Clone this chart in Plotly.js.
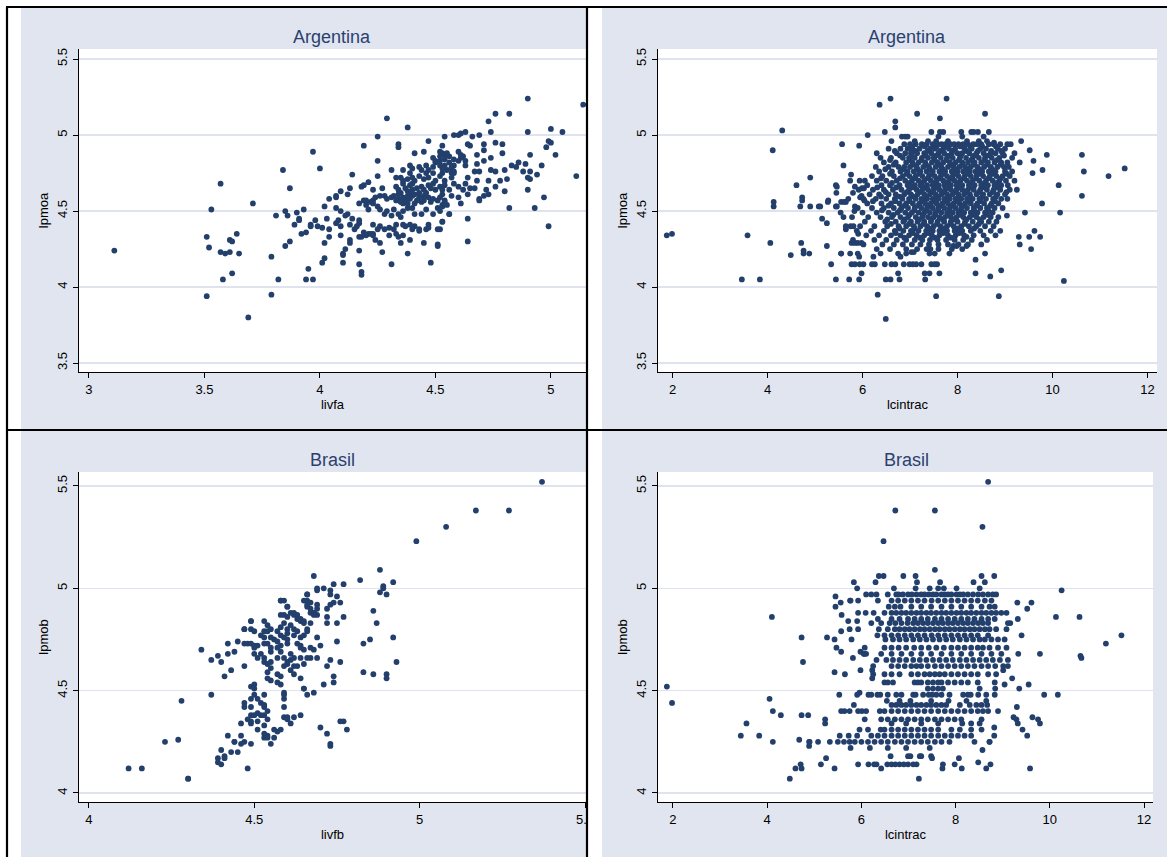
<!DOCTYPE html>
<html><head><meta charset="utf-8">
<script src="https://cdn.plot.ly/plotly-3.0.1.min.js"></script>
<style>html,body{margin:0;padding:0;background:#fff}#chart{width:1167px;height:857px}</style>
</head><body><div id="chart"></div>
<script>
// ---------- DATA ----------
const panelTitles = ["Argentina", "Argentina", "Brasil", "Brasil"];
const xTitles = ["livfa", "lcintrac", "livfb", "lcintrac"];
const yTitles = ["lpmoa", "lpmoa", "lpmob", "lpmob"];

// Argentina: livfa (x) vs lpmoa (y)
const argLivfaLpmoa = [
[3.11,4.24],[3.51,3.94],[3.51,4.33],[3.52,4.26],[3.53,4.51],[3.57,4.68],[3.57,4.23],[3.59,4.22],[3.61,4.23],[3.58,4.05],
[3.62,4.09],[3.61,4.31],[3.62,4.30],[3.64,4.35],[3.65,4.22],[3.69,3.80],[3.71,4.55],[3.79,3.95],[3.79,4.20],[3.82,4.05],
[3.81,4.47],[3.84,4.77],[3.85,4.50],[3.86,4.47],[3.85,4.27],[3.87,4.30],[3.87,4.65],[3.89,4.41],[3.90,4.49],[3.91,4.45],
[3.91,4.44],[3.93,4.51],[3.92,4.35],[3.94,4.36],[3.96,4.41],[3.96,4.40],[3.98,4.44],[3.94,4.05],[3.97,4.05],[3.95,4.12],
[3.97,4.89],[4.00,4.78],[3.99,4.40],[4.01,4.39],[4.04,4.38],[4.03,4.45],[4.04,4.33],[4.02,4.29],[4.02,4.53],[4.01,4.16],
[4.02,4.19],[4.04,4.58],[4.07,4.60],[4.07,4.59],[4.09,4.63],[4.12,4.61],[4.13,4.65],[4.14,4.74],[4.07,4.52],[4.09,4.50],
[4.08,4.44],[4.07,4.42],[4.09,4.40],[4.09,4.34],[4.11,4.47],[4.12,4.48],[4.14,4.45],[4.13,4.41],[4.10,4.16],[4.10,4.21],
[4.10,4.22],[4.11,4.25],[4.13,4.29],[4.13,4.31],[4.17,4.15],[4.17,4.24],[4.18,4.10],[4.18,4.08],[4.19,4.93],[4.15,4.38],
[4.16,4.40],[4.17,4.42],[4.17,4.44],[4.17,4.33],[4.18,4.33],[4.19,4.36],[4.20,4.34],[4.21,4.35],[4.22,4.35],[4.17,4.55],
[4.19,4.57],[4.20,4.57],[4.22,4.56],[4.23,4.57],[4.23,4.64],[4.21,4.69],[4.19,4.67],[4.18,4.66],
[4.25,4.73],[4.25,4.83],[4.25,4.99],[4.27,4.65],[4.27,4.23],[4.29,5.11],[4.31,4.15],[4.31,4.77],[4.33,4.72],[4.34,4.94],
[4.34,4.92],[4.38,5.05],[4.38,4.22],[4.35,4.29],[4.41,4.88],[4.45,4.89],[4.47,4.96],[4.45,4.29],[4.48,4.16],[4.51,4.27],
[4.52,4.38],[4.53,4.43],[4.56,4.48],[4.47,4.41],[4.46,4.38],[4.43,4.38],[4.41,4.40],[4.39,4.41],[4.37,4.40],[4.36,4.41],
[4.33,4.41],[4.32,4.38],[4.30,4.39],[4.28,4.38],[4.26,4.40],[4.25,4.38],[4.23,4.35],[4.24,4.31],[4.26,4.29],[4.23,4.41],
[4.23,4.34],[4.33,4.35],[4.34,4.33],[4.30,4.34],[4.36,4.34],[4.39,4.31],[4.40,4.38],[4.43,4.37],[4.47,4.39],
[4.20,4.54],[4.21,4.51],[4.23,4.55],[4.25,4.53],[4.26,4.51],[4.28,4.48],[4.29,4.50],[4.31,4.47],[4.32,4.51],[4.34,4.48],
[4.35,4.46],[4.36,4.50],[4.38,4.52],[4.36,4.55],[4.38,4.55],[4.40,4.52],[4.41,4.48],[4.44,4.48],[4.46,4.51],[4.49,4.48],
[4.51,4.52],[4.53,4.54],
[4.24,4.59],[4.26,4.60],[4.28,4.60],[4.29,4.58],[4.31,4.59],[4.32,4.60],[4.34,4.61],[4.34,4.58],[4.35,4.56],[4.36,4.59],
[4.38,4.60],[4.39,4.58],[4.40,4.60],[4.41,4.61],[4.43,4.59],[4.44,4.56],[4.45,4.57],[4.47,4.59],[4.48,4.56],[4.49,4.58],
[4.51,4.57],[4.52,4.59],[4.54,4.57],[4.37,4.57],[4.39,4.62],[4.42,4.57],[4.43,4.62],[4.35,4.62],[4.41,4.55],[4.46,4.62],
[4.38,4.63],[4.33,4.57],[4.45,4.60],
[4.33,4.66],[4.34,4.64],[4.36,4.68],[4.37,4.65],[4.39,4.67],[4.40,4.64],[4.40,4.68],[4.42,4.65],[4.44,4.66],[4.45,4.64],
[4.47,4.67],[4.48,4.65],[4.49,4.68],[4.50,4.64],[4.52,4.66],[4.53,4.64],[4.54,4.67],
[4.35,4.72],[4.36,4.70],[4.38,4.71],[4.39,4.75],[4.40,4.72],[4.41,4.70],[4.43,4.73],[4.45,4.71],[4.46,4.75],[4.47,4.72],
[4.49,4.75],[4.50,4.70],[4.52,4.73],[4.53,4.75],[4.55,4.77],[4.57,4.75],
[4.36,4.77],[4.39,4.80],[4.40,4.78],[4.43,4.79],[4.44,4.77],[4.46,4.80],[4.47,4.77],[4.49,4.79],[4.50,4.82],[4.52,4.80],
[4.53,4.78],[4.54,4.80],[4.57,4.78],[4.58,4.80],[4.58,4.76],
[4.49,4.85],[4.50,4.83],[4.52,4.86],[4.53,4.88],[4.54,4.84],[4.56,4.86],[4.58,4.84],[4.60,4.89],[4.62,4.86],[4.63,4.83],
[4.53,4.93],[4.52,4.89],[4.54,4.87],[4.55,4.88],[4.52,4.83],[4.56,4.82],[4.57,4.79],[4.58,4.75],[4.57,4.72],[4.54,4.70],
[4.58,4.68],[4.60,4.66],[4.56,4.64],[4.53,4.61],[4.57,4.60],[4.54,4.56],[4.53,4.53],[4.55,4.54],[4.52,4.50],[4.56,4.48],
[4.53,4.43],[4.51,4.38],[4.51,4.28],[4.54,4.99],
[4.90,5.24],[5.14,5.20],[4.76,5.14],[4.82,5.14],[4.73,5.09],[4.74,5.02],[4.90,5.02],[5.00,5.04],[5.05,5.02],[4.99,4.96],
[5.00,4.95],[4.98,4.92],[5.02,4.87],[4.91,4.87],[4.96,4.80],[5.11,4.73],[4.94,4.74],[4.90,4.64],[4.97,4.59],[4.93,4.52],
[4.99,4.40],[4.82,4.52],[4.90,4.72],[4.91,4.71],[4.88,4.76],[4.91,4.76],[4.89,4.81],[4.86,4.82],[4.83,4.80],[4.85,4.79],
[4.79,4.94],[4.76,4.95],[4.79,4.88],[4.80,4.77],[4.81,4.71],[4.78,4.70],[4.80,4.63],[4.76,4.66],
[4.71,4.94],[4.71,4.90],[4.71,4.83],[4.74,4.85],[4.74,4.77],[4.76,4.76],[4.73,4.70],[4.72,4.64],[4.73,4.61],[4.71,4.60],
[4.69,4.58],[4.69,4.57],[4.66,4.99],[4.65,4.93],[4.64,4.94],[4.69,5.00],[4.63,5.02],[4.61,5.01],[4.60,5.00],[4.58,5.00],
[4.68,4.87],[4.68,4.81],[4.67,4.76],[4.69,4.76],[4.68,4.70],[4.67,4.65],[4.65,4.65],[4.64,4.61],
[4.61,4.87],[4.61,4.85],[4.60,4.83],[4.63,4.80],[4.64,4.72],[4.63,4.68],[4.62,4.64],[4.60,4.59],[4.61,4.55],[4.64,4.45],
[4.64,4.30]
];

// Argentina: lcintrac (x) vs lpmoa (y) - scattered observations
const argCintracLpmoa = [
[1.88,4.34],[1.99,4.35],[3.58,4.34],[3.46,4.05],[3.84,4.05],[4.06,4.29],[4.11,4.90],[4.31,5.03],[4.13,4.56],[4.13,4.53],
[4.49,4.21],[4.61,4.67],[4.71,4.29],[4.76,4.24],[4.76,4.22],[4.88,4.22],[4.73,4.59],[4.73,4.57],[4.90,4.72],[5.15,4.45],
[5.25,4.42],[5.25,4.27],[5.34,4.15],[5.44,4.05],[5.27,4.56],[5.28,4.57],[5.57,4.94],[5.60,4.80],[5.55,4.22],[5.72,4.05],
[5.93,4.05],[6.32,3.95],[6.36,5.20],[6.59,5.24],[6.49,3.79],[6.69,5.09],[6.69,5.05],[7.15,5.14],[7.63,5.11],[7.77,5.24],
[8.58,5.14],[8.66,5.02],[7.55,3.94],[8.87,3.94],[8.92,4.11],[8.69,4.07],[8.38,4.18],[8.38,4.09],[8.58,4.22],[10.24,4.04],
[9.29,4.33],[9.31,4.28],[9.51,4.33],[9.55,4.25],[9.74,4.33],[9.62,4.37],[9.42,4.49],[9.04,4.47],[9.78,4.55],[10.16,4.49],
[10.13,4.67],[10.62,4.60],[10.66,4.76],[10.62,4.87],[11.18,4.73],[11.52,4.78],[9.88,4.87],[9.79,4.77],[9.58,4.75],[9.60,4.83],
[9.52,4.90],[9.34,4.96],[9.31,4.82],[8.77,4.95],[5.93,4.93],[6.11,5.00],
[4.69,4.53],[4.90,4.53],[5.08,4.53],[5.11,4.53],[5.44,4.53],[5.46,4.53],[5.55,4.56],[5.61,4.56],[5.65,4.56],[5.46,4.66],
[5.45,4.62],[5.44,4.67],[5.74,4.70],[5.76,4.74],[5.80,4.62],[5.84,4.66],[5.94,4.70],[5.99,4.65],[6.03,4.65],[5.98,4.60],
[5.54,4.49],[5.60,4.46],[5.65,4.38],[5.75,4.40],[5.81,4.40],[5.84,4.53],[5.83,4.50],[5.95,4.59],[6.04,4.57],[5.91,4.35],
[5.95,4.40],[5.77,4.29],[5.84,4.29],[5.90,4.29],[5.98,4.29],[5.74,4.22],[5.90,4.22],[5.93,4.20],[5.55,4.22],
[5.77,4.15],[5.84,4.15],[5.94,4.15],[6.02,4.15],[6.20,4.15],[6.26,4.15],[6.47,4.15],[6.61,4.15],[6.69,4.15],[6.87,4.15],
[6.99,4.15],[7.06,4.15],[7.13,4.15],[7.24,4.15],[7.45,4.15],[7.52,4.15],[7.57,4.15],
[5.98,4.09],[6.75,4.09],[7.31,4.09],[7.41,4.09],[7.62,4.09],[6.49,4.05],[6.59,4.05],[6.78,4.05],[7.32,4.05],
[6.23,4.20],[6.38,4.22],[6.75,4.22],[6.80,4.20],[6.92,4.22],[7.03,4.23],[7.08,4.23],[7.41,4.22],[7.52,4.22],[7.43,4.25],
[7.83,4.22],[7.91,4.27],[7.98,4.27],[8.19,4.33],[8.19,4.27]
];
// Argentina: lcintrac vs lpmoa - dense core, read row by row: [lpmoa, [lcintrac...]]
const argCintracCoreRows = [
[5.02,[6.47,7.45,7.63,7.70,8.08,8.29,8.34,8.43]],
[4.99,[6.83,6.90,6.95,7.60,8.10,8.55]],
[4.96,[6.61,7.10,7.38,7.55,7.80,8.20,8.45,8.62]],
[4.94,[6.88,7.00,7.12,7.25,7.35,7.48,7.58,7.66,7.74,7.85,7.93,8.02,8.12,8.22,8.33,8.40,8.50,8.66,8.76,8.90,9.05,9.12]],
[4.925,[7.05,7.31,7.56,7.79,8.06,8.27,8.52,8.81]],
[4.91,[6.55,6.80,6.95,7.05,7.20,7.42,7.52,7.70,7.82,7.95,8.15,8.30,8.48,8.60,8.85,9.00]],
[4.895,[6.68,7.11,7.37,7.63,7.89,8.19,8.43,8.71,8.92]],
[4.88,[6.30,6.72,6.90,7.02,7.15,7.30,7.45,7.60,7.72,7.88,8.00,8.10,8.25,8.40,8.55,8.70,8.80,8.95,9.20]],
[4.865,[6.79,7.04,7.33,7.55,7.81,8.07,8.35,8.63,8.98]],
[4.85,[6.38,6.60,6.85,6.98,7.10,7.25,7.38,7.50,7.65,7.78,7.90,8.05,8.18,8.32,8.45,8.58,8.72,8.88,9.15]],
[4.835,[6.58,6.99,7.24,7.52,7.77,8.03,8.29,8.57,8.83]],
[4.82,[6.45,6.70,6.92,7.05,7.18,7.32,7.46,7.58,7.70,7.84,7.96,8.10,8.22,8.36,8.50,8.64,8.78,8.92,9.05]],
[4.805,[6.66,7.07,7.34,7.61,7.86,8.10,8.34,8.62,8.91]],
[4.79,[6.28,6.55,6.76,6.88,7.00,7.14,7.28,7.40,7.54,7.66,7.80,7.92,8.04,8.16,8.28,8.42,8.56,8.70,8.84,8.98,9.08]],
[4.775,[6.48,6.86,7.16,7.42,7.69,7.95,8.21,8.46,8.73]],
[4.76,[6.35,6.62,6.80,6.95,7.08,7.22,7.35,7.48,7.62,7.74,7.88,8.00,8.12,8.26,8.38,8.52,8.66,8.80,9.00,9.15]],
[4.745,[6.58,6.93,7.19,7.46,7.71,7.97,8.22,8.47,8.75,9.04]],
[4.73,[6.20,6.42,6.66,6.85,6.99,7.12,7.26,7.40,7.52,7.65,7.78,7.90,8.02,8.15,8.28,8.40,8.54,8.68,8.82,8.95,9.10]],
[4.715,[6.39,6.79,7.09,7.37,7.62,7.87,8.13,8.39,8.65,8.91]],
[4.70,[6.05,6.30,6.50,6.72,6.90,7.04,7.18,7.30,7.44,7.56,7.70,7.82,7.94,8.06,8.20,8.32,8.46,8.60,8.74,8.88,9.02,9.20]],
[4.685,[6.62,6.99,7.25,7.53,7.78,8.03,8.29,8.57,8.83]],
[4.67,[6.10,6.40,6.58,6.78,6.95,7.10,7.22,7.36,7.48,7.60,7.72,7.86,7.98,8.10,8.24,8.36,8.50,8.64,8.78,8.92,9.06]],
[4.655,[6.31,6.71,7.05,7.31,7.57,7.82,8.05,8.31,8.57,8.85]],
[4.64,[5.92,6.22,6.45,6.64,6.82,6.98,7.14,7.26,7.38,7.50,7.62,7.74,7.86,7.98,8.10,8.22,8.34,8.48,8.62,8.76,8.90,9.10,9.25]],
[4.625,[6.49,6.93,7.21,7.47,7.71,7.94,8.19,8.45,8.74,9.03]],
[4.61,[6.15,6.35,6.55,6.70,6.88,7.02,7.16,7.30,7.42,7.54,7.66,7.78,7.90,8.02,8.14,8.26,8.40,8.54,8.68,8.84,9.00]],
[4.595,[6.39,6.78,7.07,7.33,7.57,7.81,8.03,8.27,8.52,8.81]],
[4.58,[5.70,6.02,6.28,6.50,6.68,6.84,6.98,7.12,7.24,7.36,7.48,7.60,7.72,7.84,7.96,8.08,8.20,8.32,8.46,8.60,8.75,8.92,9.05]],
[4.565,[6.22,6.69,6.99,7.27,7.51,7.75,7.99,8.23,8.49,8.79]],
[4.55,[6.10,6.40,6.60,6.78,6.92,7.06,7.20,7.32,7.44,7.56,7.68,7.80,7.92,8.04,8.16,8.28,8.42,8.56,8.72,8.86]],
[4.535,[6.55,6.89,7.17,7.42,7.66,7.89,8.13,8.39,8.69]],
[4.52,[5.90,6.20,6.45,6.66,6.82,6.96,7.10,7.24,7.36,7.48,7.60,7.72,7.84,7.96,8.08,8.20,8.34,8.48,8.62,8.78,8.95]],
[4.505,[6.41,6.79,7.09,7.35,7.59,7.83,8.07,8.35,8.65]],
[4.49,[6.00,6.30,6.55,6.74,6.90,7.04,7.18,7.30,7.42,7.54,7.66,7.78,7.90,8.02,8.14,8.28,8.42,8.58,8.74]],
[4.475,[6.65,6.99,7.27,7.53,7.79,8.05,8.33,8.63]],
[4.46,[5.78,6.12,6.38,6.62,6.80,6.96,7.12,7.26,7.38,7.50,7.62,7.74,7.86,7.98,8.12,8.26,8.40,8.55,8.70,8.86]],
[4.445,[6.52,6.89,7.19,7.45,7.69,7.93,8.19,8.47]],
[4.43,[6.05,6.48,6.70,6.86,7.02,7.16,7.30,7.44,7.58,7.72,7.86,8.00,8.16,8.32,8.50,8.66,8.82]],
[4.415,[6.60,6.98,7.29,7.57,7.85,8.15,8.45]],
[4.40,[5.65,6.25,6.52,6.76,6.92,7.08,7.22,7.36,7.50,7.64,7.78,7.92,8.08,8.24,8.40,8.58,8.76]],
[4.385,[6.78,7.10,7.41,7.71,8.01,8.35]],
[4.37,[5.88,6.18,6.45,6.68,6.86,7.02,7.18,7.34,7.48,7.62,7.78,7.94,8.10,8.28,8.48,8.70,8.90]],
[4.355,[6.70,7.06,7.38,7.70,8.04]],
[4.34,[6.08,6.35,6.60,6.80,6.98,7.14,7.30,7.46,7.62,7.80,7.96,8.14,8.34,8.55,8.80]],
[4.325,[6.88,7.21,7.52,7.86]],
[4.31,[5.80,6.25,6.50,6.72,6.92,7.10,7.26,7.42,7.58,7.76,7.94,8.12,8.30,8.62]],
[4.28,[6.02,6.42,6.66,6.85,7.04,7.22,7.40,7.60,7.80,8.02,8.22,8.50]],
[4.25,[6.30,6.58,6.92,7.15,7.35,7.60,7.88,8.10]]
];

// Brasil: livfb (x) vs lpmob (y)
const braLivfbLpmob = [
[4.12,4.12],[4.16,4.12],[4.23,4.25],[4.27,4.26],[4.28,4.45],[4.30,4.07],[4.30,4.07],[4.34,4.70],[4.37,4.48],[4.37,4.65],
[4.39,4.67],[4.40,4.64],[4.41,4.57],[4.42,4.68],[4.42,4.73],[4.44,4.69],[4.43,4.60],[4.42,4.28],
[4.39,4.17],[4.39,4.15],[4.40,4.14],[4.41,4.17],[4.41,4.18],[4.40,4.21],[4.43,4.20],[4.44,4.25],[4.44,4.25],[4.45,4.20],
[4.46,4.24],[4.46,4.28],[4.47,4.25],[4.48,4.12],[4.49,4.24],
[4.45,4.74],[4.47,4.73],[4.48,4.73],[4.49,4.73],[4.50,4.71],[4.47,4.80],[4.47,4.62],[4.49,4.80],[4.49,4.84],[4.49,4.84],[4.50,4.79],
[5.37,5.52],[5.17,5.38],[5.27,5.38],[5.08,5.30],[4.99,5.23],[4.88,5.09],[4.82,5.04],[4.92,5.03],
[4.89,5.01],[4.89,5.00],[4.88,4.98],[4.90,4.97],[4.77,5.02],[4.74,5.02],[4.71,5.00],[4.68,5.06],[4.69,5.00],[4.69,4.99],
[4.86,4.89],[4.87,4.83],[4.85,4.75],[4.83,4.73],[4.92,4.76],[4.93,4.64],[4.83,4.59],[4.86,4.58],[4.90,4.58],[4.90,4.56],
[4.77,4.35],[4.76,4.35],[4.78,4.31],[4.70,4.32],[4.72,4.29],[4.73,4.24],[4.73,4.23],
[4.76,4.64],[4.74,4.57],[4.74,4.54],[4.71,4.53],[4.72,4.62],[4.73,4.65],[4.75,4.74],[4.75,4.83],[4.72,4.83],[4.72,4.86],
[4.77,4.86],[4.76,4.93],[4.75,4.96],[4.74,4.93],[4.73,4.92],[4.72,4.90],[4.73,4.99],[4.73,4.97],
[4.69,4.87],[4.68,4.88],[4.68,4.87],[4.67,4.88],[4.66,4.91],[4.65,4.94],[4.66,4.97],[4.66,4.97],
[4.70,4.72],[4.69,4.76],[4.69,4.66],
[4.68,4.49],[4.66,4.48],[4.65,4.51],[4.65,4.51],[4.64,4.56],[4.64,4.38],[4.62,4.37],
[4.61,4.34],[4.60,4.36],[4.59,4.42],[4.59,4.37],[4.60,4.37],[4.58,4.31],[4.57,4.30],[4.56,4.27],[4.55,4.24],[4.56,4.31],
[4.53,4.29],[4.53,4.33],[4.51,4.31],[4.54,4.28],[4.53,4.27],[4.54,4.27],
[4.51,4.35],[4.49,4.34],[4.49,4.35],[4.48,4.36],[4.49,4.38],[4.50,4.38],[4.51,4.39],[4.52,4.38],[4.53,4.38],[4.54,4.36],
[4.46,4.34],[4.47,4.42],[4.47,4.44],[4.49,4.42],[4.49,4.46],[4.50,4.48],[4.51,4.46],[4.52,4.44],[4.53,4.48],[4.53,4.43],
[4.54,4.40],[4.53,4.42],[4.49,4.52],[4.50,4.53],[4.50,4.51],
[4.59,4.49],[4.59,4.46],[4.59,4.48],[4.58,4.53],[4.57,4.54],[4.55,4.55],[4.54,4.56],[4.54,4.59],[4.55,4.61],[4.57,4.58],
[4.58,4.57],[4.62,4.58],[4.62,4.62],[4.61,4.60],[4.60,4.63],[4.59,4.62],
[4.51,4.66],[4.50,4.68],[4.50,4.72],[4.51,4.72],[4.52,4.68],[4.53,4.64],[4.54,4.63],[4.55,4.64],[4.57,4.66],[4.53,4.66],
[4.55,4.69],[4.55,4.71],[4.57,4.71],[4.58,4.69],[4.58,4.72],[4.60,4.73],[4.60,4.75],[4.59,4.76],[4.58,4.77],[4.57,4.79],
[4.60,4.80],[4.61,4.82],[4.62,4.80],[4.63,4.79],[4.62,4.77],[4.60,4.78],[4.58,4.81],[4.59,4.83],[4.60,4.86],[4.59,4.87],
[4.61,4.88],[4.62,4.87],[4.63,4.85],[4.64,4.84],[4.65,4.83],[4.66,4.80],[4.66,4.79],[4.65,4.77],[4.64,4.76],[4.63,4.73],
[4.64,4.72],[4.64,4.71],[4.65,4.70],[4.67,4.71],[4.68,4.70],[4.67,4.66],[4.66,4.66],[4.65,4.63],[4.64,4.66],[4.62,4.66],
[4.61,4.68],[4.61,4.65],[4.63,4.62],[4.60,4.64],[4.59,4.66],
[4.53,4.84],[4.54,4.82],[4.53,4.79],[4.55,4.80],[4.54,4.79],[4.56,4.75],[4.57,4.74],[4.54,4.73],[4.53,4.73],[4.52,4.77],
[4.53,4.76],[4.47,4.80],[4.55,4.76],
[4.58,4.94],[4.58,4.94],[4.59,4.94],[4.60,4.91],[4.58,4.87],[4.60,4.91],
[4.62,4.88],[4.63,4.87],[4.64,4.85],[4.65,4.84],[4.67,4.83],[4.68,4.88],[4.68,4.88],[4.67,4.90],[4.69,4.90],[4.69,4.92],
[4.66,4.94],[4.66,4.92],[4.67,4.93]
];

// Brasil: lcintrac (x) vs lpmob (y) - scattered observations
const braCintracLpmob = [
[1.87,4.52],[1.98,4.44],[4.10,4.86],[4.73,4.76],[4.76,4.64],[4.05,4.46],[4.12,4.40],[4.29,4.38],[3.56,4.34],[3.44,4.28],
[3.83,4.28],[4.12,4.25],[4.48,4.07],[4.60,4.12],[4.71,4.14],[4.73,4.12],[4.68,4.26],[4.89,4.25],[4.89,4.23],[4.73,4.38],
[4.87,4.38],[5.14,4.14],[5.25,4.17],[5.43,4.12],[5.23,4.36],[5.23,4.34],[5.53,4.48],[5.43,4.59],[5.65,4.58],
[5.27,4.76],[5.43,4.75],[5.57,4.79],[5.57,4.69],[5.47,4.71],[5.45,4.96],[5.45,4.91],[5.56,4.93],[5.76,4.94],[5.58,4.87],
[5.72,4.84],[5.91,4.84],[5.75,4.80],[5.79,4.75],[5.82,4.66],[5.98,4.69],[6.06,4.68],[5.98,4.60],[6.23,4.60],[6.23,4.56],
[5.84,4.43],[5.91,4.48],[5.96,4.49],
[6.47,5.23],[6.72,5.38],[7.56,5.38],[8.57,5.30],[8.69,5.52],[7.56,5.09],
[10.25,4.99],[10.13,4.86],[10.63,4.86],[11.52,4.77],[11.19,4.73],[10.65,4.67],[10.67,4.66],[9.79,4.68],[9.40,4.77],
[9.31,4.93],[9.52,4.90],[9.61,4.93],[9.32,4.85],[9.16,4.83],[9.88,4.48],[10.17,4.48],[9.55,4.53],[9.35,4.51],
[9.20,4.56],[9.04,4.53],[9.01,4.60],[9.30,4.42],[9.23,4.37],[9.29,4.36],[9.32,4.34],[9.42,4.31],[9.52,4.28],[9.63,4.37],
[9.75,4.36],[9.79,4.34],[9.58,4.12],[8.82,4.32],[8.82,4.28],[8.72,4.25],[8.57,4.21],[8.48,4.15],[8.65,4.12],[8.74,4.14],
[8.07,4.17],[7.98,4.14],[8.13,4.12],[7.73,4.14],[7.72,4.12],[7.22,4.07],
[6.62,4.18],[6.99,4.18],[7.04,4.18],[7.24,4.18],[7.27,4.18],[7.48,4.18],[7.50,4.17],
[5.93,4.14],[6.15,4.14],[6.27,4.14],[6.32,4.14],[6.42,4.12],[6.55,4.14],[6.64,4.14],[6.72,4.14],[6.81,4.14],[6.90,4.14],
[6.99,4.14],[7.10,4.14],[7.17,4.14]
];
// Brasil: lcintrac vs lpmob - dense horizontal bands: [lpmob, [lcintrac...]]
const braCintracBandRows = [
[5.06,[6.37,6.47,6.89,7.15,8.55,8.82]],
[5.03,[5.84,6.30,7.18,7.67,8.38,8.62]],
[5.00,[5.91,6.69,7.15,7.45,7.63,7.75,8.02,8.51]],
[4.97,[6.10,6.21,6.32,6.56,6.74,6.79,6.88,6.99,7.07,7.17,7.27,7.34,7.43,7.52,7.59,7.70,7.77,7.84,7.91,8.02,8.09,8.16,8.26,8.37,8.48,8.58,8.69,8.79,8.86]],
[4.94,[5.77,5.93,6.35,6.64,6.78,6.92,7.06,7.20,7.34,7.49,7.63,7.77,7.91,8.05,8.19,8.33,8.47,8.62,8.76]],
[4.91,[6.58,6.71,6.83,7.06,7.27,7.48,7.70,7.91,8.12,8.33,8.55,8.72,8.83]],
[4.88,[5.93,6.09,6.26,6.49,6.64,6.74,6.85,6.95,7.06,7.17,7.27,7.38,7.48,7.59,7.70,7.80,7.91,8.02,8.12,8.23,8.33,8.44,8.55,8.65,8.76,8.86,8.97,9.08]],
[4.85,[6.35,6.64,6.81,6.99,7.13,7.27,7.41,7.56,7.70,7.84,7.98,8.12,8.26,8.40,8.55,8.69,8.83]],
[4.83,[6.21,6.42,6.60,6.72,6.85,6.98,7.10,7.20,7.31,7.41,7.52,7.63,7.73,7.84,7.94,8.05,8.16,8.26,8.37,8.48,8.58,8.69,9.11]],
[4.80,[5.93,6.37,6.56,6.71,6.81,6.92,7.02,7.13,7.24,7.34,7.45,7.56,7.66,7.77,7.87,7.98,8.09,8.19,8.30,8.40,8.51,8.62,8.72,8.86,9.08]],
[4.77,[6.34,6.49,6.64,6.78,6.92,7.06,7.20,7.34,7.49,7.63,7.77,7.91,8.05,8.19,8.33,8.47,8.69]],
[4.75,[6.51,6.67,6.81,6.95,7.10,7.24,7.38,7.52,7.66,7.80,7.94,8.09,8.23,8.37,8.51,8.62,8.76,8.90,9.04]],
[4.71,[6.07,6.49,6.64,6.79,6.95,7.12,7.27,7.43,7.59,7.75,7.91,8.05,8.19,8.33,8.47,8.58,8.72,8.90,9.08]],
[4.68,[6.05,6.10,6.42,6.64,6.85,7.06,7.27,7.48,7.70,7.91,8.12,8.33,8.55,8.76,8.97,9.33]],
[4.65,[6.32,6.53,6.67,6.81,6.95,7.10,7.24,7.38,7.52,7.66,7.80,7.94,8.09,8.23,8.37,8.51,8.65,8.79,8.94,9.11]],
[4.62,[6.25,6.64,6.78,6.92,7.06,7.17,7.27,7.41,7.56,7.70,7.84,7.98,8.12,8.26,8.40,8.55,8.69,8.84,9.01,9.11]],
[4.58,[6.25,6.49,6.64,6.81,7.06,7.20,7.34,7.45,7.56,7.66,7.77,7.91,8.05,8.19,8.33,8.47,8.69,8.86]],
[4.54,[6.49,6.56,6.67,7.13,7.20,7.27,7.41,7.52,7.63,7.70,7.84,7.98,8.12,8.26,8.47,8.83]],
[4.51,[7.41,7.52,7.63,7.73,8.51,8.84]],
[4.48,[6.15,6.21,6.34,6.40,6.56,6.74,6.85,7.10,7.15,7.31,7.43,7.50,7.59,7.70,7.87,8.16,8.26,8.32,8.48,8.65,8.83]],
[4.45,[6.54,6.81,7.04,7.48,7.85,8.23,8.65]],
[4.43,[6.64,6.74,6.85,6.95,7.06,7.17,7.27,7.38,7.48,7.59,7.70,7.80,8.09,8.30,8.44,8.55,8.67]],
[4.40,[5.57,5.64,5.75,5.93,6.01,6.10,6.39,6.49,6.64,6.78,6.92,7.06,7.20,7.34,7.48,7.63,7.77,7.91,8.05,8.19,8.33,8.47,8.58,8.69,8.90]],
[4.36,[6.07,6.42,6.56,6.71,6.85,6.99,7.13,7.27,7.41,7.56,7.70,7.84,7.98,8.12,8.55]],
[4.34,[6.64,6.95,7.27,7.63,8.14,8.33,8.51]],
[4.31,[5.96,6.14,6.41,6.49,6.64,6.78,6.92,7.06,7.20,7.34,7.48,7.63,7.91,8.09,8.33,8.55]],
[4.28,[5.54,5.73,5.91,6.21,6.35,6.49,6.64,6.78,6.92,7.06,7.20,7.34,7.48,7.63,7.77,7.91,8.05,8.19,8.33]],
[4.25,[4.90,5.08,5.33,5.50,5.63,5.75,5.86,6.00,6.14,6.28,6.42,6.56,6.71,6.85,6.99,7.13,7.27,7.41,7.56,7.70,7.87,8.40,8.72]],
[4.22,[5.77,6.18,6.56,6.95,7.45]]
];

// ---------- BUILD ----------
function fromRows(rows){const out=[];rows.forEach(r=>r[1].forEach(x=>out.push([x,r[0]])));return out;}
const panels = [
  argLivfaLpmoa,
  argCintracLpmoa.concat(fromRows(argCintracCoreRows)),
  braLivfbLpmob,
  braCintracLpmob.concat(fromRows(braCintracBandRows))
];
const W = 1167, H = 857;
const fx = v => v / W, fy = v => 1 - v / H;
const navy = '#233f6c';
const FONT = 'Liberation Sans, Arial, sans-serif';
const PANEL_BG = '#e1e5ef';

const traces = panels.map((pts, i) => ({
  type: 'scatter', mode: 'markers',
  x: pts.map(p => p[0]), y: pts.map(p => p[1]),
  xaxis: i === 0 ? 'x' : 'x' + (i + 1), yaxis: i === 0 ? 'y' : 'y' + (i + 1),
  marker: {color: navy, size: 5.8, line: {width: 0}},
  hoverinfo: 'x+y', showlegend: false
}));

const axBase = {
  showline: true, linecolor: '#000', linewidth: 1.4, mirror: false,
  ticks: 'outside', ticklen: 5, tickwidth: 1, tickcolor: '#000',
  zeroline: false, fixedrange: true,
  tickfont: {family: FONT, size: 13, color: '#000'}
};
function xa(dom, range, dtick, tick0, title, anchor){
  return Object.assign({}, axBase, {domain: dom, range: range, dtick: dtick, tick0: tick0, showgrid: false, anchor: anchor,
    title: {text: title, font: {family: FONT, size: 13, color: '#000'}, standoff: 4}});
}
function ya(dom, range, title, anchor){
  return Object.assign({}, axBase, {domain: dom, range: range, dtick: 0.5, tick0: 0, tickangle: -90, anchor: anchor,
    showgrid: true, gridcolor: '#dfe3ee', gridwidth: 1.5,
    title: {text: title, font: {family: FONT, size: 13, color: '#000'}, standoff: 4}});
}

// plot-area boxes in pixels: [left, right, top, bottom]
const boxes = [[79, 586, 49, 372], [658, 1157, 49, 372], [79, 586, 472, 802], [658, 1153, 472, 802]];
const dom = b => ({x: [fx(b[0]), fx(b[1])], y: [fy(b[3]), fy(b[2])]});

const layout = {
  width: W, height: H, margin: {l: 0, r: 0, t: 0, b: 0},
  paper_bgcolor: '#fff', plot_bgcolor: '#fff', showlegend: false,
  xaxis:  xa(dom(boxes[0]).x, [2.957, 5.152], 0.5, 3, xTitles[0], 'y'),
  yaxis:  ya(dom(boxes[0]).y, [3.441, 5.566], yTitles[0], 'x'),
  xaxis2: xa(dom(boxes[1]).x, [1.695, 12.2], 2, 2, xTitles[1], 'y2'),
  yaxis2: ya(dom(boxes[1]).y, [3.441, 5.566], yTitles[1], 'x2'),
  xaxis3: xa(dom(boxes[2]).x, [3.970, 5.503], 0.5, 4, xTitles[2], 'y3'),
  yaxis3: ya(dom(boxes[2]).y, [3.956, 5.568], yTitles[2], 'x3'),
  xaxis4: xa(dom(boxes[3]).x, [1.682, 12.19], 2, 2, xTitles[3], 'y4'),
  yaxis4: ya(dom(boxes[3]).y, [3.956, 5.568], yTitles[3], 'x4'),
  annotations: [
    [332, 37], [907, 37], [332, 460], [906, 460]
  ].map((c, i) => ({
    xref: 'paper', yref: 'paper', x: fx(c[0]), y: fy(c[1]), xanchor: 'center', yanchor: 'middle',
    text: panelTitles[i], showarrow: false, font: {family: FONT, size: 18, color: '#2a4170'}
  })),
  shapes: [
    // panel backgrounds
    {type:'rect', xref:'paper', yref:'paper', x0:fx(21), x1:fx(587), y0:fy(430), y1:fy(8), fillcolor:PANEL_BG, line:{width:0}, layer:'below'},
    {type:'rect', xref:'paper', yref:'paper', x0:fx(602), x1:1, y0:fy(430), y1:fy(8), fillcolor:PANEL_BG, line:{width:0}, layer:'below'},
    {type:'rect', xref:'paper', yref:'paper', x0:fx(21), x1:fx(587), y0:0, y1:fy(431), fillcolor:PANEL_BG, line:{width:0}, layer:'below'},
    {type:'rect', xref:'paper', yref:'paper', x0:fx(602), x1:1, y0:0, y1:fy(431), fillcolor:PANEL_BG, line:{width:0}, layer:'below'}
  ].concat(boxes.map(b => ({type:'rect', xref:'paper', yref:'paper', x0:fx(b[0]), x1:fx(b[1]), y0:fy(b[3]), y1:fy(b[2]),
    fillcolor:'#fff', line:{width:0}, layer:'below'}))).concat([
    // white gap that clips the last tick label of the lower-left panel
    {type:'rect', xref:'paper', yref:'paper', x0:fx(588), x1:fx(601.5), y0:fy(835), y1:fy(803), fillcolor:'#fff', line:{width:0}, layer:'above'},
    // black frame lines
    {type:'line', xref:'paper', yref:'paper', x0:fx(7), x1:fx(7), y0:0, y1:fy(7), line:{color:'#000', width:2.2}, layer:'above'},
    {type:'line', xref:'paper', yref:'paper', x0:fx(6), x1:1, y0:fy(7), y1:fy(7), line:{color:'#000', width:2.2}, layer:'above'},
    {type:'line', xref:'paper', yref:'paper', x0:fx(587), x1:fx(587), y0:0, y1:fy(7), line:{color:'#000', width:2.2}, layer:'above'},
    {type:'line', xref:'paper', yref:'paper', x0:fx(6), x1:1, y0:fy(430), y1:fy(430), line:{color:'#000', width:2.2}, layer:'above'}
  ])
};

Plotly.newPlot('chart', traces, layout, {displayModeBar: false, staticPlot: true});
</script>
</body></html>
